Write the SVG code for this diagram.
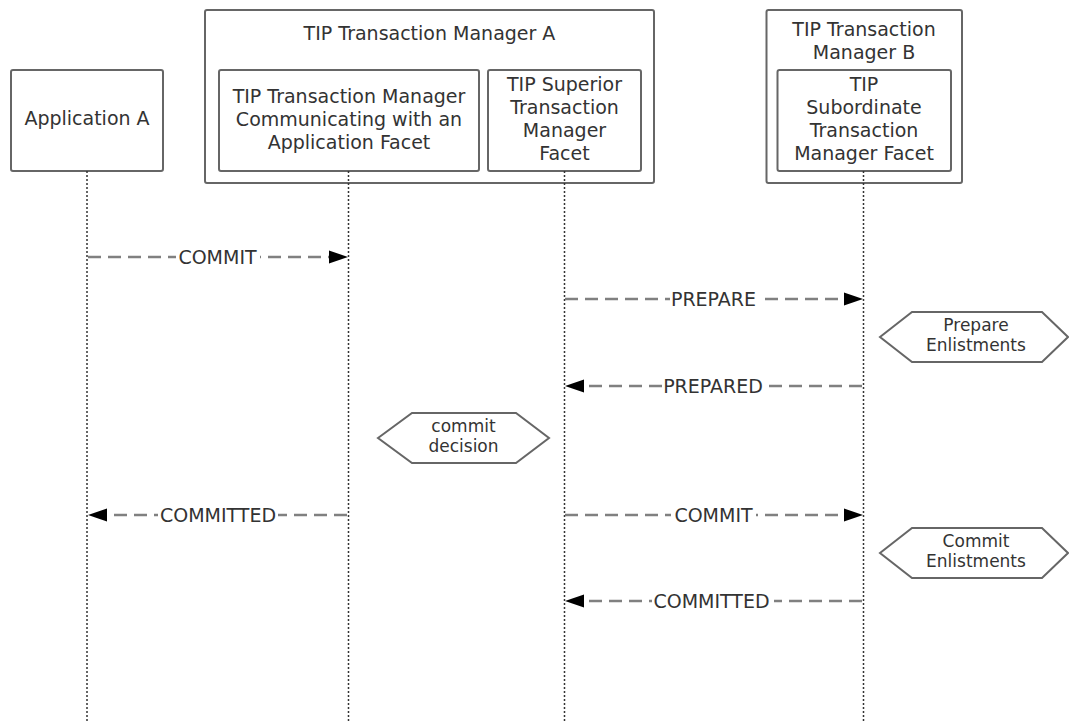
<svg xmlns="http://www.w3.org/2000/svg" width="1069" height="721" viewBox="0 0 1069 721">
<style>
text{font-family:"DejaVu Sans","Liberation Sans",sans-serif;font-size:19px;fill:#333;text-anchor:middle}
.hx{font-size:17px}
.box{fill:#fff;stroke:#666;stroke-width:2}
.life{stroke:#333;stroke-width:1.5;stroke-dasharray:2 2;fill:none}
.msg{stroke:#808080;stroke-width:2.5;stroke-dasharray:13 7;fill:none}
.hex{fill:#fff;stroke:#666;stroke-width:2}
.lbl{fill:#fff}
.ah{fill:#000}
</style>
<rect width="1069" height="721" fill="#fff"/>
<g id="appA">
<rect class="box" x="11" y="70" width="152" height="101" rx="2"/>
<text x="87" y="125">Application A</text>
</g>
<g id="tmA">
<rect class="box" x="205" y="10" width="449" height="173" rx="2"/>
<text x="429.5" y="40">TIP Transaction Manager A</text>
</g>
<g id="tmA-app-facet">
<rect class="box" x="219" y="70" width="260" height="101" rx="2"/>
<text x="349" y="102.5">TIP Transaction Manager</text>
<text x="349" y="125.5">Communicating with an</text>
<text x="349" y="148.5">Application Facet</text>
</g>
<g id="tmA-sup-facet">
<rect class="box" x="488" y="70" width="153" height="101" rx="2"/>
<text x="564.5" y="91">TIP Superior</text>
<text x="564.5" y="114">Transaction</text>
<text x="564.5" y="137">Manager</text>
<text x="564.5" y="160">Facet</text>
</g>
<g id="tmB">
<rect class="box" x="766.5" y="10" width="195.5" height="173" rx="2"/>
<text x="864" y="36">TIP Transaction</text>
<text x="864" y="59">Manager B</text>
</g>
<g id="tmB-sub-facet">
<rect class="box" x="777.5" y="70" width="173.5" height="101" rx="2"/>
<text x="864" y="91">TIP</text>
<text x="864" y="114">Subordinate</text>
<text x="864" y="137">Transaction</text>
<text x="864" y="160">Manager Facet</text>
</g>
<g id="lifelines">
<line class="life" x1="87" y1="171" x2="87" y2="721"/>
<line class="life" x1="348.5" y1="171" x2="348.5" y2="721"/>
<line class="life" x1="564.5" y1="171" x2="564.5" y2="721"/>
<line class="life" x1="863.5" y1="171" x2="863.5" y2="721"/>
</g>
<g id="commit-decision">
<polygon class="hex" points="378,438 412,413 516,413 549,438 516,463 412,463"/>
<text class="hx" x="463.5" y="432">commit</text>
<text class="hx" x="463.5" y="452">decision</text>
</g>
<g id="prepare-enlistments">
<polygon class="hex" points="880,337 912,312 1042,312 1068,337 1042,362 912,362"/>
<text class="hx" x="976" y="331">Prepare</text>
<text class="hx" x="976" y="351">Enlistments</text>
</g>
<g id="commit-enlistments">
<polygon class="hex" points="880,553 912,528 1042,528 1068,553 1042,578 912,578"/>
<text class="hx" x="976" y="547">Commit</text>
<text class="hx" x="976" y="567">Enlistments</text>
</g>
<g id="connectors">
<g id="m1">
<line class="msg" x1="88" y1="257" x2="330" y2="257"/>
<polygon class="ah" points="348,257 329,250.5 329,263.5"/>
<rect class="lbl" x="176" y="246" width="84" height="22"/>
<text x="217.5" y="264">COMMIT</text>
</g>
<g id="m2">
<line class="msg" x1="565" y1="299" x2="845" y2="299"/>
<polygon class="ah" points="863,299 844,292.5 844,305.5"/>
<rect class="lbl" x="670" y="288" width="88" height="22"/>
<text x="713.5" y="306">PREPARE</text>
</g>
<g id="m3">
<line class="msg" x1="862" y1="386" x2="583" y2="386"/>
<polygon class="ah" points="565,386 584,379.5 584,392.5"/>
<rect class="lbl" x="662" y="375" width="102" height="22"/>
<text x="713" y="393">PREPARED</text>
</g>
<g id="m4">
<line class="msg" x1="347" y1="515" x2="106" y2="515"/>
<polygon class="ah" points="88,515 107,508.5 107,521.5"/>
<rect class="lbl" x="158" y="504" width="120" height="22"/>
<text x="218" y="522">COMMITTED</text>
</g>
<g id="m5">
<line class="msg" x1="565" y1="515" x2="845" y2="515"/>
<polygon class="ah" points="863,515 844,508.5 844,521.5"/>
<rect class="lbl" x="671" y="504" width="85" height="22"/>
<text x="713.5" y="522">COMMIT</text>
</g>
<g id="m6">
<line class="msg" x1="862" y1="601" x2="583" y2="601"/>
<polygon class="ah" points="565,601 584,594.5 584,607.5"/>
<rect class="lbl" x="652" y="590" width="122" height="22"/>
<text x="711.5" y="608">COMMITTED</text>
</g>
</g>
</svg>
